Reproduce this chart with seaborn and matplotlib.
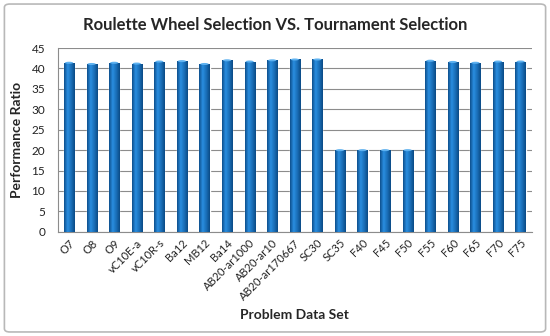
import matplotlib
matplotlib.use('Agg')
import matplotlib.pyplot as plt
import seaborn as sns
import numpy as np
import pandas as pd
from matplotlib.patches import FancyBboxPatch

datasets = ['O7', 'O8', 'O9', 'vC10E-a', 'vC10R-s', 'Ba12', 'MB12', 'Ba14',
            'AB20-ar1000', 'AB20-ar10', 'AB20-ar170667', 'SC30', 'SC35',
            'F40', 'F45', 'F50', 'F55', 'F60', 'F65', 'F70', 'F75']
ratio = [41.4, 41.1, 41.4, 41.2, 41.7, 41.8, 41.1, 42.0, 41.7, 42.0, 42.2,
         42.2, 20.0, 20.0, 20.0, 20.0, 41.9, 41.6, 41.4, 41.7, 41.7]

df = pd.DataFrame({'set': datasets, 'ratio': ratio})

sns.set_style('white')
plt.rcParams['font.family'] = ['Lato', 'DejaVu Sans']

fig = plt.figure(figsize=(5.5, 3.36), dpi=100)
ax = fig.add_axes([0.105, 0.31, 0.862, 0.547])

sns.barplot(data=df, x='set', y='ratio', color='#1a6fb8', width=0.45,
            saturation=1, ax=ax, zorder=3)

# cylinder-like gradient on each bar (Excel look)
cmap = matplotlib.colors.LinearSegmentedColormap.from_list(
    'cyl', ['#0d4f8c', '#2a8ee0', '#1a6fb8', '#0b4a85'])
grad = np.linspace(0, 1, 64).reshape(1, -1)
for p in ax.patches:
    x0, y0 = p.get_x(), p.get_y()
    w, h = p.get_width(), p.get_height()
    im = ax.imshow(grad, cmap=cmap, aspect='auto', extent=[x0, x0 + w, y0, y0 + h],
                   zorder=4)
    im.set_clip_path(p)
    ax.add_patch(matplotlib.patches.Ellipse((x0 + w / 2, y0 + h), w * 0.8, 0.5,
                                            color='#5fb2f0', zorder=5, lw=0))

ax.set_xlim(-0.5, len(datasets) - 0.5)
ax.set_ylim(0, 45)
ax.set_yticks(range(0, 46, 5))
ax.yaxis.grid(True, color='#8c8c8c', lw=0.8, zorder=0)
ax.set_axisbelow(True)
for s in ['top', 'right']:
    ax.spines[s].set_visible(False)
for s in ['left', 'bottom']:
    ax.spines[s].set_color('#8c8c8c')
    ax.spines[s].set_linewidth(0.8)

ax.set_xticks(range(len(datasets)))
ax.set_xticklabels(datasets, rotation=45, ha='right', rotation_mode='anchor',
                   fontsize=8, color='#222222')
ax.tick_params(axis='x', length=0, pad=4)
ax.tick_params(axis='y', labelsize=8.5, colors='#222222', length=0, pad=6)
# tick marks between categories
ax.set_xticks(np.arange(-0.5, len(datasets), 1), minor=True)
ax.tick_params(axis='x', which='minor', length=3, color='#8c8c8c', direction='out')
ax.tick_params(axis='y', which='both', length=3, color='#8c8c8c', direction='out')
ax.tick_params(axis='y', labelcolor='#222222')

ax.set_xlabel('Problem Data Set', fontsize=10, fontweight='bold', labelpad=5)
ax.set_ylabel('Performance Ratio', fontsize=10, fontweight='bold', labelpad=6)
fig.text(0.5, 0.925, 'Roulette Wheel Selection VS. Tournament Selection',
         ha='center', va='center', fontsize=12, fontweight='bold')

frame = FancyBboxPatch((0.008, 0.012), 0.984, 0.976,
                       boxstyle='round,pad=0,rounding_size=0.01',
                       transform=fig.transFigure, fill=False,
                       edgecolor='#b8b8b8', lw=1.2)
fig.patches.append(frame)

fig.savefig('out.png', dpi=100)
